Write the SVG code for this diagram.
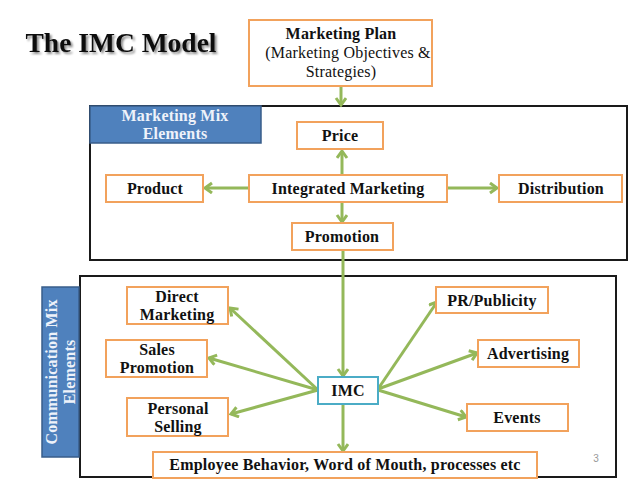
<svg xmlns="http://www.w3.org/2000/svg" width="638" height="479" viewBox="0 0 638 479">
<defs>
<style>
.t{font-family:"Liberation Serif","Times New Roman",serif;font-size:16px;fill:#111;text-anchor:middle;letter-spacing:0.2px}
.b{font-weight:bold}
.lbl{font-family:"Liberation Serif","Times New Roman",serif;font-size:16px;font-weight:bold;fill:#eef2fa;text-anchor:middle;letter-spacing:0.2px}
.ob{fill:#fff;stroke:#f2a25c;stroke-width:2}
.frame{fill:#fff;stroke:#1a1a1a;stroke-width:2}
.tag{fill:#4f81bd;stroke:#385d8a;stroke-width:1.5}
.c{stroke:#94b85a;stroke-width:3;fill:none;marker-end:url(#ah)}
</style>
<filter id="shadow" x="-10%" y="-30%" width="120%" height="160%">
<feDropShadow dx="2" dy="2" stdDeviation="1" flood-color="#000" flood-opacity="0.45"/>
</filter>
<marker id="ah" markerUnits="userSpaceOnUse" markerWidth="14" markerHeight="14" refX="9" refY="6" orient="auto">
<path d="M2,1 L9,6 L2,11" fill="none" stroke="#94b85a" stroke-width="3" stroke-linejoin="miter"/>
</marker>
</defs>
<rect width="638" height="479" fill="#fff"/>

<g id="title">
<text x="121" y="52" class="t b" style="font-size:27.5px;letter-spacing:0" filter="url(#shadow)">The IMC Model</text>
</g>

<g id="marketing-mix-frame">
<rect x="90" y="106" width="537" height="154" class="frame"/>
<rect x="90" y="106" width="171" height="37" class="tag"/>
<text x="175" y="121" class="lbl">Marketing Mix</text>
<text x="175" y="139" class="lbl">Elements</text>
</g>

<g id="communication-mix-frame">
<rect x="80" y="276" width="536" height="201" class="frame"/>
<rect x="42" y="287" width="37" height="170" class="tag"/>
<text transform="translate(57,372) rotate(-90)" class="lbl">Communication Mix</text>
<text transform="translate(75,372) rotate(-90)" class="lbl">Elements</text>
<text x="596" y="462" style="font-family:'Liberation Sans',Arial,sans-serif;font-size:10px;fill:#999;text-anchor:middle">3</text>
</g>

<g id="connectors">
<line x1="341" y1="86" x2="341" y2="105" class="c"/>
<line x1="342" y1="175" x2="342" y2="151" class="c"/>
<line x1="249" y1="188" x2="205" y2="188" class="c"/>
<line x1="447" y1="188" x2="497" y2="188" class="c"/>
<line x1="342" y1="202" x2="342" y2="222" class="c"/>
<line x1="343" y1="250" x2="343" y2="376" class="c"/>
<line x1="318" y1="390" x2="230" y2="308" class="c"/>
<line x1="318" y1="390" x2="209" y2="358" class="c"/>
<line x1="318" y1="390" x2="231" y2="414" class="c"/>
<line x1="378" y1="389" x2="437" y2="302" class="c"/>
<line x1="378" y1="389" x2="477" y2="353" class="c"/>
<line x1="378" y1="390" x2="466" y2="417" class="c"/>
<line x1="343" y1="404" x2="343" y2="451" class="c"/>
</g>

<g id="marketing-plan">
<rect x="249" y="20" width="183" height="66" class="ob"/>
<text x="341" y="39" class="t b">Marketing Plan</text>
<text x="348" y="58" class="t">(Marketing Objectives &amp;</text>
<text x="341" y="77" class="t">Strategies)</text>
</g>

<g id="price">
<rect x="297" y="122" width="86" height="27" class="ob"/>
<text x="340" y="141" class="t b">Price</text>
</g>

<g id="product">
<rect x="106" y="175" width="97" height="27" class="ob"/>
<text x="155" y="194" class="t b">Product</text>
</g>

<g id="integrated-marketing">
<rect x="249" y="175" width="198" height="27" class="ob"/>
<text x="348" y="194" class="t b">Integrated Marketing</text>
</g>

<g id="distribution">
<rect x="499" y="175" width="123" height="27" class="ob"/>
<text x="561" y="194" class="t b">Distribution</text>
</g>

<g id="promotion">
<rect x="292" y="223" width="101" height="27" class="ob"/>
<text x="342" y="242" class="t b">Promotion</text>
</g>

<g id="direct-marketing">
<rect x="127" y="287" width="101" height="37" class="ob"/>
<text x="177" y="302" class="t b">Direct</text>
<text x="177" y="320" class="t b">Marketing</text>
</g>

<g id="sales-promotion">
<rect x="106" y="340" width="101" height="37" class="ob"/>
<text x="157" y="355" class="t b">Sales</text>
<text x="157" y="373" class="t b">Promotion</text>
</g>

<g id="personal-selling">
<rect x="127" y="398" width="101" height="38" class="ob"/>
<text x="178" y="414" class="t b">Personal</text>
<text x="178" y="432" class="t b">Selling</text>
</g>

<g id="imc">
<rect x="318" y="377" width="60" height="27" fill="#fff" stroke="#4bacc6" stroke-width="2"/>
<text x="348" y="396" class="t b">IMC</text>
</g>

<g id="pr-publicity">
<rect x="436" y="287" width="112" height="26" class="ob"/>
<text x="492" y="306" class="t b">PR/Publicity</text>
</g>

<g id="advertising">
<rect x="478" y="340" width="101" height="27" class="ob"/>
<text x="528" y="359" class="t b">Advertising</text>
</g>

<g id="events">
<rect x="467" y="404" width="101" height="27" class="ob"/>
<text x="517" y="423" class="t b">Events</text>
</g>

<g id="employee-behavior">
<rect x="153" y="452" width="384" height="26" class="ob"/>
<text x="345" y="470" class="t b">Employee Behavior, Word of Mouth, processes etc</text>
</g>
</svg>
